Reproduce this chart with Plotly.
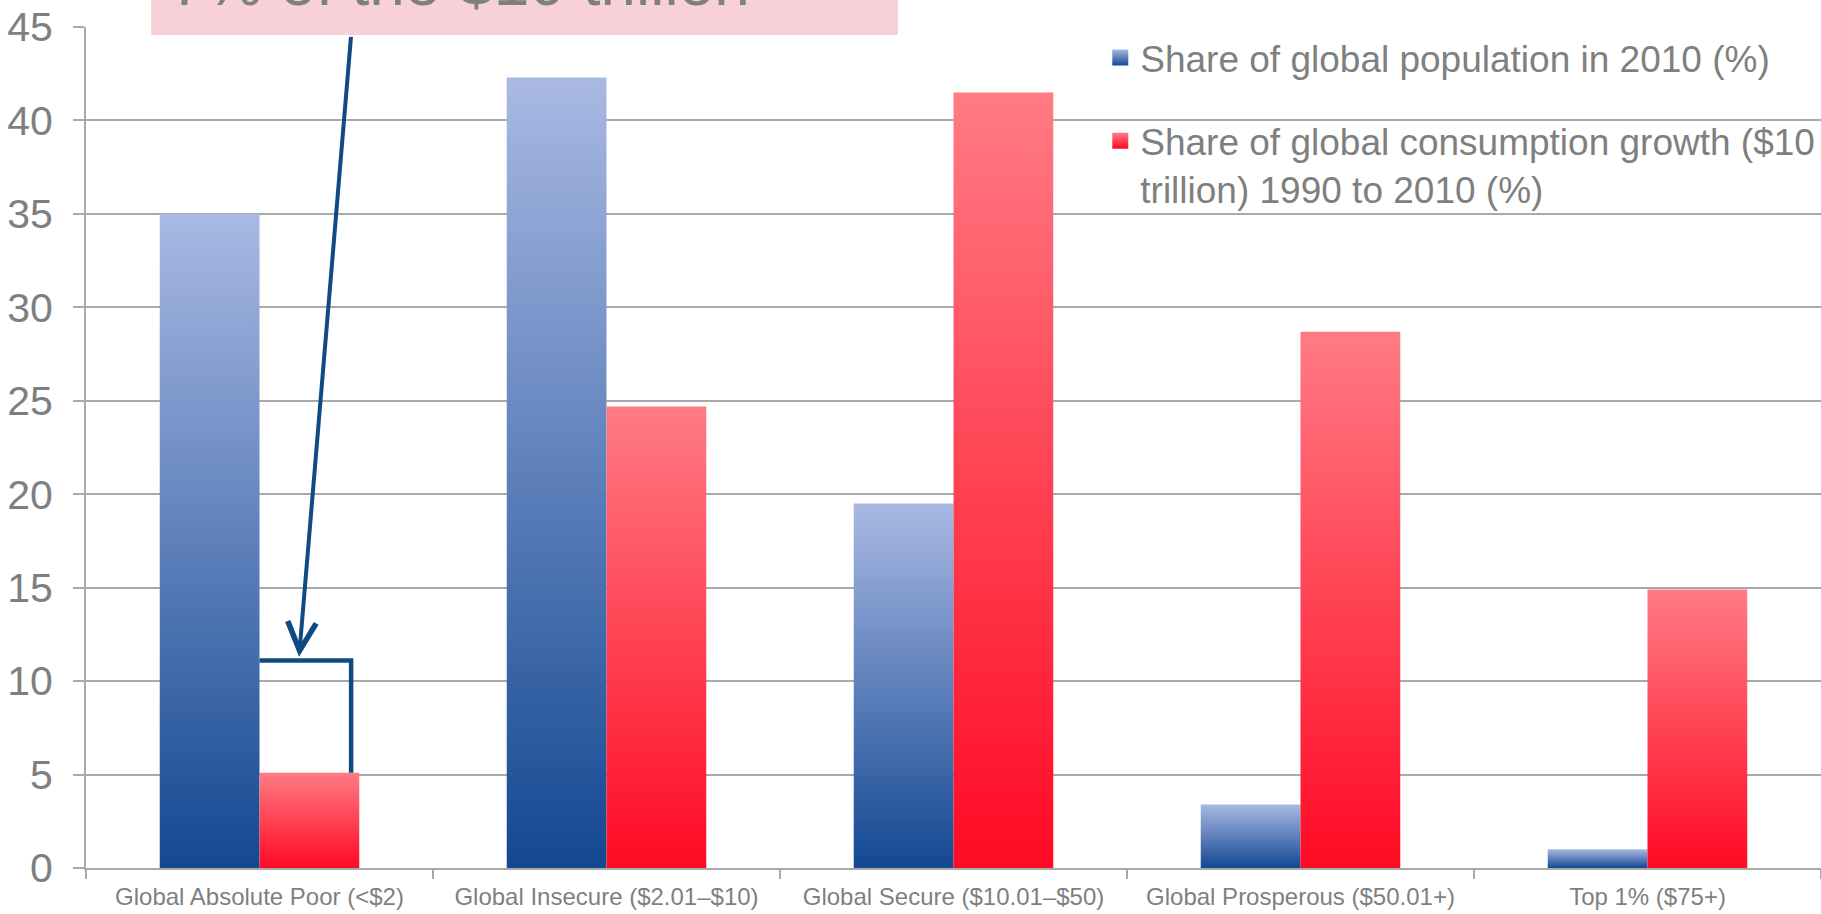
import plotly.graph_objects as go

# ---- data -------------------------------------------------------------
categories = [
    "Global Absolute Poor (<$2)",
    "Global Insecure ($2.01–$10)",
    "Global Secure ($10.01–$50)",
    "Global Prosperous ($50.01+)",
    "Top 1% ($75+)",
]
population_share = [35.0, 42.3, 19.5, 3.4, 1.0]
consumption_growth_share = [5.1, 24.7, 41.5, 28.7, 14.9]

series_names = [
    "Share of global population in 2010 (%)",
    "Share of global consumption growth ($10<br>trillion) 1990 to 2010 (%)",
]
y_tick_values = [0, 5, 10, 15, 20, 25, 30, 35, 40, 45]
callout_text = "7% of the $10 trillion"

# ---- styling ----------------------------------------------------------
FONT = "Liberation Sans, Arial, sans-serif"
GREY_TEXT = "#7f7f7f"
GRID = "#a9a9a9"
NAVY = "#0f4a80"
BLUE_BOTTOM, BLUE_TOP = "#134892", "#a9b9e3"
RED_BOTTOM, RED_TOP = "#ff0a24", "#ff7b84"

GROUP_WIDTH = 0.575          # share of each category slot used by the pair
BAR_W = GROUP_WIDTH / 2

fig = go.Figure()


def add_bar(center, left, value, bottom_color, top_color):
    """A bar drawn as a filled polygon so it can carry a vertical gradient."""
    x0 = center - BAR_W if left else center
    x1 = center if left else center + BAR_W
    fig.add_trace(go.Scatter(
        x=[x0, x0, x1, x1, x0],
        y=[0, value, value, 0, 0],
        mode="lines",
        fill="toself",
        line=dict(width=0),
        fillgradient=dict(type="vertical", start=0, stop=value,
                          colorscale=[[0, bottom_color], [1, top_color]]),
        hoverinfo="skip",
        showlegend=False,
    ))


for i, (p, c) in enumerate(zip(population_share, consumption_growth_share)):
    add_bar(i, True, p, BLUE_BOTTOM, BLUE_TOP)
    add_bar(i, False, c, RED_BOTTOM, RED_TOP)

# legend entries with gradient squares
for name, top, bottom, grp in [
    (series_names[0], BLUE_TOP, BLUE_BOTTOM, "pop"),
    (series_names[1], RED_TOP, RED_BOTTOM, "cons"),
]:
    fig.add_trace(go.Scatter(
        x=[None], y=[None], mode="markers", name=name, legendgroup=grp,
        marker=dict(symbol="square", size=16, color=top,
                    gradient=dict(type="vertical", color=bottom),
                    line=dict(width=0)),
    ))

# ---- callout: bracket + arrow + pink box -------------------------------
bracket_y = 11.1
bracket_x = 0.264
fig.add_shape(type="path", xref="x", yref="y",
              path=f"M 0,{bracket_y} L {bracket_x},{bracket_y} L {bracket_x},{consumption_growth_share[0]}",
              line=dict(color=NAVY, width=4.5), layer="above")

fig.add_annotation(
    x=0.114, y=11.3, xref="x", yref="y",
    ax=bracket_x, ay=44.55, axref="x", ayref="y",
    showarrow=True, arrowhead=5, arrowsize=1.4, arrowwidth=4,
    arrowcolor=NAVY, text="",
)

fig.add_shape(type="rect", xref="paper", yref="paper",
              x0=0.0375, x1=0.468, y0=0.9905, y1=1.2,
              fillcolor="#f8d1d8", line=dict(width=0), layer="above")

fig.add_annotation(
    x=0.048, y=1.008, xref="paper", yref="paper",
    xanchor="left", yanchor="bottom", showarrow=False,
    text=callout_text, borderpad=0,
    font=dict(family=FONT, size=64, color=GREY_TEXT),
)

# ---- layout -----------------------------------------------------------
fig.update_layout(
    width=1821, height=914,
    margin=dict(l=86, r=0, t=27, b=46, autoexpand=False),
    paper_bgcolor="white", plot_bgcolor="white",
    font=dict(family=FONT, color=GREY_TEXT),
    showlegend=True,
    legend=dict(
        x=0.5846, y=1.0, xanchor="left", yanchor="top",
        bgcolor="rgba(0,0,0,0)", font=dict(family=FONT, size=37, color=GREY_TEXT),
        tracegroupgap=32, valign="top", traceorder="grouped",
    ),
    xaxis=dict(
        range=[-0.5, len(categories) - 0.5],
        tickmode="array", tickvals=list(range(len(categories))), ticktext=categories,
        ticks="", showgrid=False, zeroline=False,
        showline=True, linecolor=GRID, linewidth=2,
        tickfont=dict(family=FONT, size=24, color=GREY_TEXT),
        ticklabelstandoff=6, automargin=False,
        minor=dict(tickmode="array",
                   tickvals=[k - 0.5 for k in range(len(categories) + 1)],
                   ticks="outside", ticklen=9, tickwidth=2, tickcolor=GRID,
                   showgrid=False),
        fixedrange=True,
    ),
    yaxis=dict(
        range=[0, 45], tickmode="array", tickvals=y_tick_values,
        ticks="outside", ticklen=11, tickwidth=2, tickcolor=GRID,
        showgrid=True, gridcolor=GRID, gridwidth=2,
        zeroline=False, showline=True, linecolor=GRID, linewidth=2,
        tickfont=dict(family=FONT, size=41, color=GREY_TEXT),
        ticklabelstandoff=12, automargin=False,
        fixedrange=True,
    ),
)

fig.write_html("out.html")
